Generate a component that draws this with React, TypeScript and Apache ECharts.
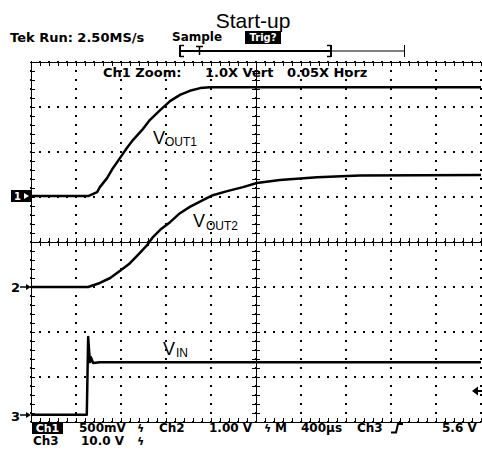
import React, { useEffect, useRef } from "react";
import * as echarts from "echarts";

// Time in graticule divisions (400 µs/div), level in graticule divisions from bottom
const vout1: [number, number][] = [
  [0, 5.02], [1.27, 5.02], [1.47, 5.11], [1.53, 5.22], [1.69, 5.42], [1.82, 5.64],
  [1.98, 5.87], [2.13, 6.09], [2.27, 6.27], [2.47, 6.49], [2.64, 6.71], [2.87, 6.93],
  [3.09, 7.13], [3.31, 7.27], [3.53, 7.36], [3.76, 7.42], [3.98, 7.44], [10, 7.44],
];
const vout2: [number, number][] = [
  [0, 3.0], [1.27, 3.0], [1.53, 3.09], [1.76, 3.2], [1.98, 3.36], [2.2, 3.53],
  [2.42, 3.76], [2.58, 3.93], [2.71, 4.11], [2.87, 4.27], [3.09, 4.44], [3.31, 4.64],
  [3.53, 4.78], [3.82, 4.93], [4.04, 5.04], [4.36, 5.13], [4.71, 5.22], [5.02, 5.31],
  [5.53, 5.38], [6.36, 5.44], [7.31, 5.48], [10, 5.49],
];
const vin: [number, number][] = [
  [0, 0.16], [1.24, 0.16], [1.27, 1.89], [1.29, 1.6], [1.31, 1.33], [1.33, 1.44],
  [1.38, 1.31], [1.53, 1.33], [10, 1.33],
];

const title = "Start-up";
const statusTexts = ["Tek Run: 2.50MS/s", "Sample", "Trig?"];
const zoomTexts = ["Ch1 Zoom:", "1.0X Vert", "0.05X Horz"];
const bottomRow1 = ["Ch1", "500mV", "Ch2", "1.00 V", "M", "400µs", "Ch3", "5.6 V"];
const bottomRow2 = ["Ch3", "10.0 V"];
const traceLabels = [["V", "OUT1"], ["V", "OUT2"], ["V", "IN"]];

const BOLD = (s: number) => `bold ${s}px "DejaVu Sans"`;
const SANS = (s: number) => `${s}px "Liberation Sans"`;

function txt(text: string, x: number, y: number, font: string, align = "left", fill = "#000", lineHeight?: number) {
  const style: any = { text, font, fill, align, verticalAlign: "middle" };
  if (lineHeight) style.lineHeight = lineHeight;
  return { type: "text", x, y, z: 100, style };
}
function ln(x1: number, y1: number, x2: number, y2: number, w = 1) {
  return { type: "line", z: 100, shape: { x1, y1, x2, y2 }, style: { stroke: "#000", lineWidth: w } };
}

export default function App() {
  const ref = useRef<HTMLDivElement>(null);
  useEffect(() => {
    if (!ref.current) return;
    const chart = echarts.init(ref.current, undefined, { renderer: "svg" });
    const black = { color: "#000", width: 1 };
    const dotted = { color: "#000", width: 2, type: [2, 7], dashOffset: 1 };
    const xBase = (extra: any) => ({
      type: "value",
      min: 0,
      max: 10,
      interval: 1,
      axisLabel: { show: false },
      axisLine: { show: true, onZero: false, lineStyle: black },
      axisTick: { show: true, inside: true, length: 4, lineStyle: black },
      minorTick: { show: true, splitNumber: 5, length: 4, lineStyle: black },
      splitLine: { show: false },
      ...extra,
    });
    const yBase = (extra: any) => ({
      type: "value",
      min: 0,
      max: 8,
      interval: 1,
      axisLabel: { show: false },
      axisLine: { show: true, onZero: false, lineStyle: black },
      axisTick: { show: true, inside: true, length: 4, lineStyle: black },
      minorTick: { show: true, splitNumber: 5, length: 4, lineStyle: black },
      splitLine: { show: false },
      ...extra,
    });
    const outTick = { show: true, inside: false, length: 4, lineStyle: black };
    const LH = 12;
    const R1 = 428;
    const R2 = 441;

    const graphic: any[] = [
      txt(title, 253, 20, SANS(21), "center"),
      txt(statusTexts[0], 10, 37, BOLD(13)),
      txt(statusTexts[1], 172, 37, BOLD(12)),
      { type: "rect", z: 100, shape: { x: 245, y: 31, width: 36, height: 13 }, style: { fill: "#000" } },
      txt(statusTexts[2], 263, 37.5, BOLD(10), "center", "#fff"),
      // record bar
      ln(180, 51, 331, 51, 2),
      ln(331, 51, 404, 51, 1),
      ln(180, 45, 180, 57, 2), ln(180, 45.5, 184, 45.5, 1.5), ln(180, 56.5, 184, 56.5, 1.5),
      ln(199.5, 46, 199.5, 55, 1.5), ln(196, 46.5, 203, 46.5, 1.5),
      ln(331, 45, 331, 57, 2), ln(327, 45.5, 331, 45.5, 1.5), ln(327, 56.5, 331, 56.5, 1.5),
      ln(404.5, 45, 404.5, 57, 1),
      // zoom status
      txt(zoomTexts[0], 103, 72, BOLD(13)),
      txt(zoomTexts[1], 205, 72, BOLD(13)),
      txt(zoomTexts[2], 287, 72, BOLD(13)),
      // trace labels
      txt(traceLabels[0][0], 153, 137.5, SANS(18)),
      txt(traceLabels[0][1], 165, 142, SANS(12)),
      txt(traceLabels[1][0], 193, 220.5, SANS(18)),
      txt(traceLabels[1][1], 206, 225.5, SANS(12)),
      txt(traceLabels[2][0], 163, 349, SANS(18)),
      txt(traceLabels[2][1], 176, 352.5, SANS(12)),
      // channel ground markers
      { type: "rect", z: 100, shape: { x: 11, y: 190, width: 20, height: 12 }, style: { fill: "#000" } },
      txt("1", 14, 196, BOLD(10), "left", "#fff"),
      { type: "polygon", z: 101, shape: { points: [[24, 193], [29, 196], [24, 199]] }, style: { fill: "#fff" } },
      txt("2", 11, 287.5, BOLD(13)),
      ln(20, 287, 28, 287, 1.5),
      { type: "polygon", z: 100, shape: { points: [[26, 284], [31, 287], [26, 290]] }, style: { fill: "#000" } },
      txt("3", 11, 416, BOLD(13)),
      ln(20, 415, 28, 415, 1.5),
      { type: "polygon", z: 100, shape: { points: [[26, 412], [31, 415], [26, 418]] }, style: { fill: "#000" } },
      // trigger level arrow
      { type: "polygon", z: 100, shape: { points: [[472, 391], [478, 386.5], [478, 395.5]] }, style: { fill: "#000" } },
      ln(477, 391, 482, 391, 2),
      // bottom readout row 1
      { type: "rect", z: 100, shape: { x: 32, y: 423, width: 31, height: 11 }, style: { fill: "#000" } },
      txt(bottomRow1[0], 47.5, R1, BOLD(11), "center", "#fff", LH),
      txt(bottomRow1[1], 79, R1, BOLD(12), "left", "#000", LH),
      txt("ϟ", 137, R1, BOLD(11), "left", "#000", LH),
      txt(bottomRow1[2], 159, R1, BOLD(12), "left", "#000", LH),
      txt(bottomRow1[3], 209, R1, BOLD(12), "left", "#000", LH),
      txt("ϟ", 264, R1, BOLD(11), "left", "#000", LH),
      txt(bottomRow1[4], 275, R1, BOLD(12), "left", "#000", LH),
      txt(bottomRow1[5], 301, R1, BOLD(12), "left", "#000", LH),
      txt(bottomRow1[6], 357, R1, BOLD(12), "left", "#000", LH),
      { type: "polyline", z: 100, shape: { points: [[391, 432.5], [396, 432.5], [398, 424], [403, 424]] }, style: { stroke: "#000", lineWidth: 2, fill: "none" } },
      txt(bottomRow1[7], 442, R1, BOLD(12), "left", "#000", LH),
      // row 2
      txt(bottomRow2[0], 33, R2, BOLD(12), "left", "#000", LH),
      txt(bottomRow2[1], 81, R2, BOLD(12), "left", "#000", LH),
      txt("ϟ", 137, R2, BOLD(11), "left", "#000", LH),
    ];

    const lineSeries = (name: string, data: [number, number][]) => ({
      name,
      type: "line",
      data,
      xAxisIndex: 0,
      yAxisIndex: 0,
      symbol: "none",
      showSymbol: false,
      smooth: false,
      z: 10,
      lineStyle: { color: "#000", width: 2.5, join: "round" },
    });

    chart.setOption({
      animation: false,
      backgroundColor: "#fff",
      grid: { left: 31, top: 62, width: 450, height: 360, containLabel: false, outerBoundsMode: "none" },
      xAxis: [
        xBase({ position: "bottom", splitLine: { show: true, lineStyle: dotted } }),
        xBase({ position: "top" }),
        xBase({ position: "bottom", offset: -180 }),
        xBase({ position: "bottom", offset: -180, axisTick: outTick }),
      ],
      yAxis: [
        yBase({ position: "left", splitLine: { show: true, lineStyle: dotted } }),
        yBase({ position: "left", offset: -225 }),
        yBase({ position: "left", offset: -225, axisTick: outTick }),
      ],
      series: [
        lineSeries("VOUT1", vout1),
        lineSeries("VOUT2", vout2),
        lineSeries("VIN", vin),
      ],
      graphic,
    });
    return () => chart.dispose();
  }, []);
  return (
    <div
      ref={ref}
      style={{ position: "absolute", left: 0, top: 0, width: 482, height: 453 }}
    />
  );
}
